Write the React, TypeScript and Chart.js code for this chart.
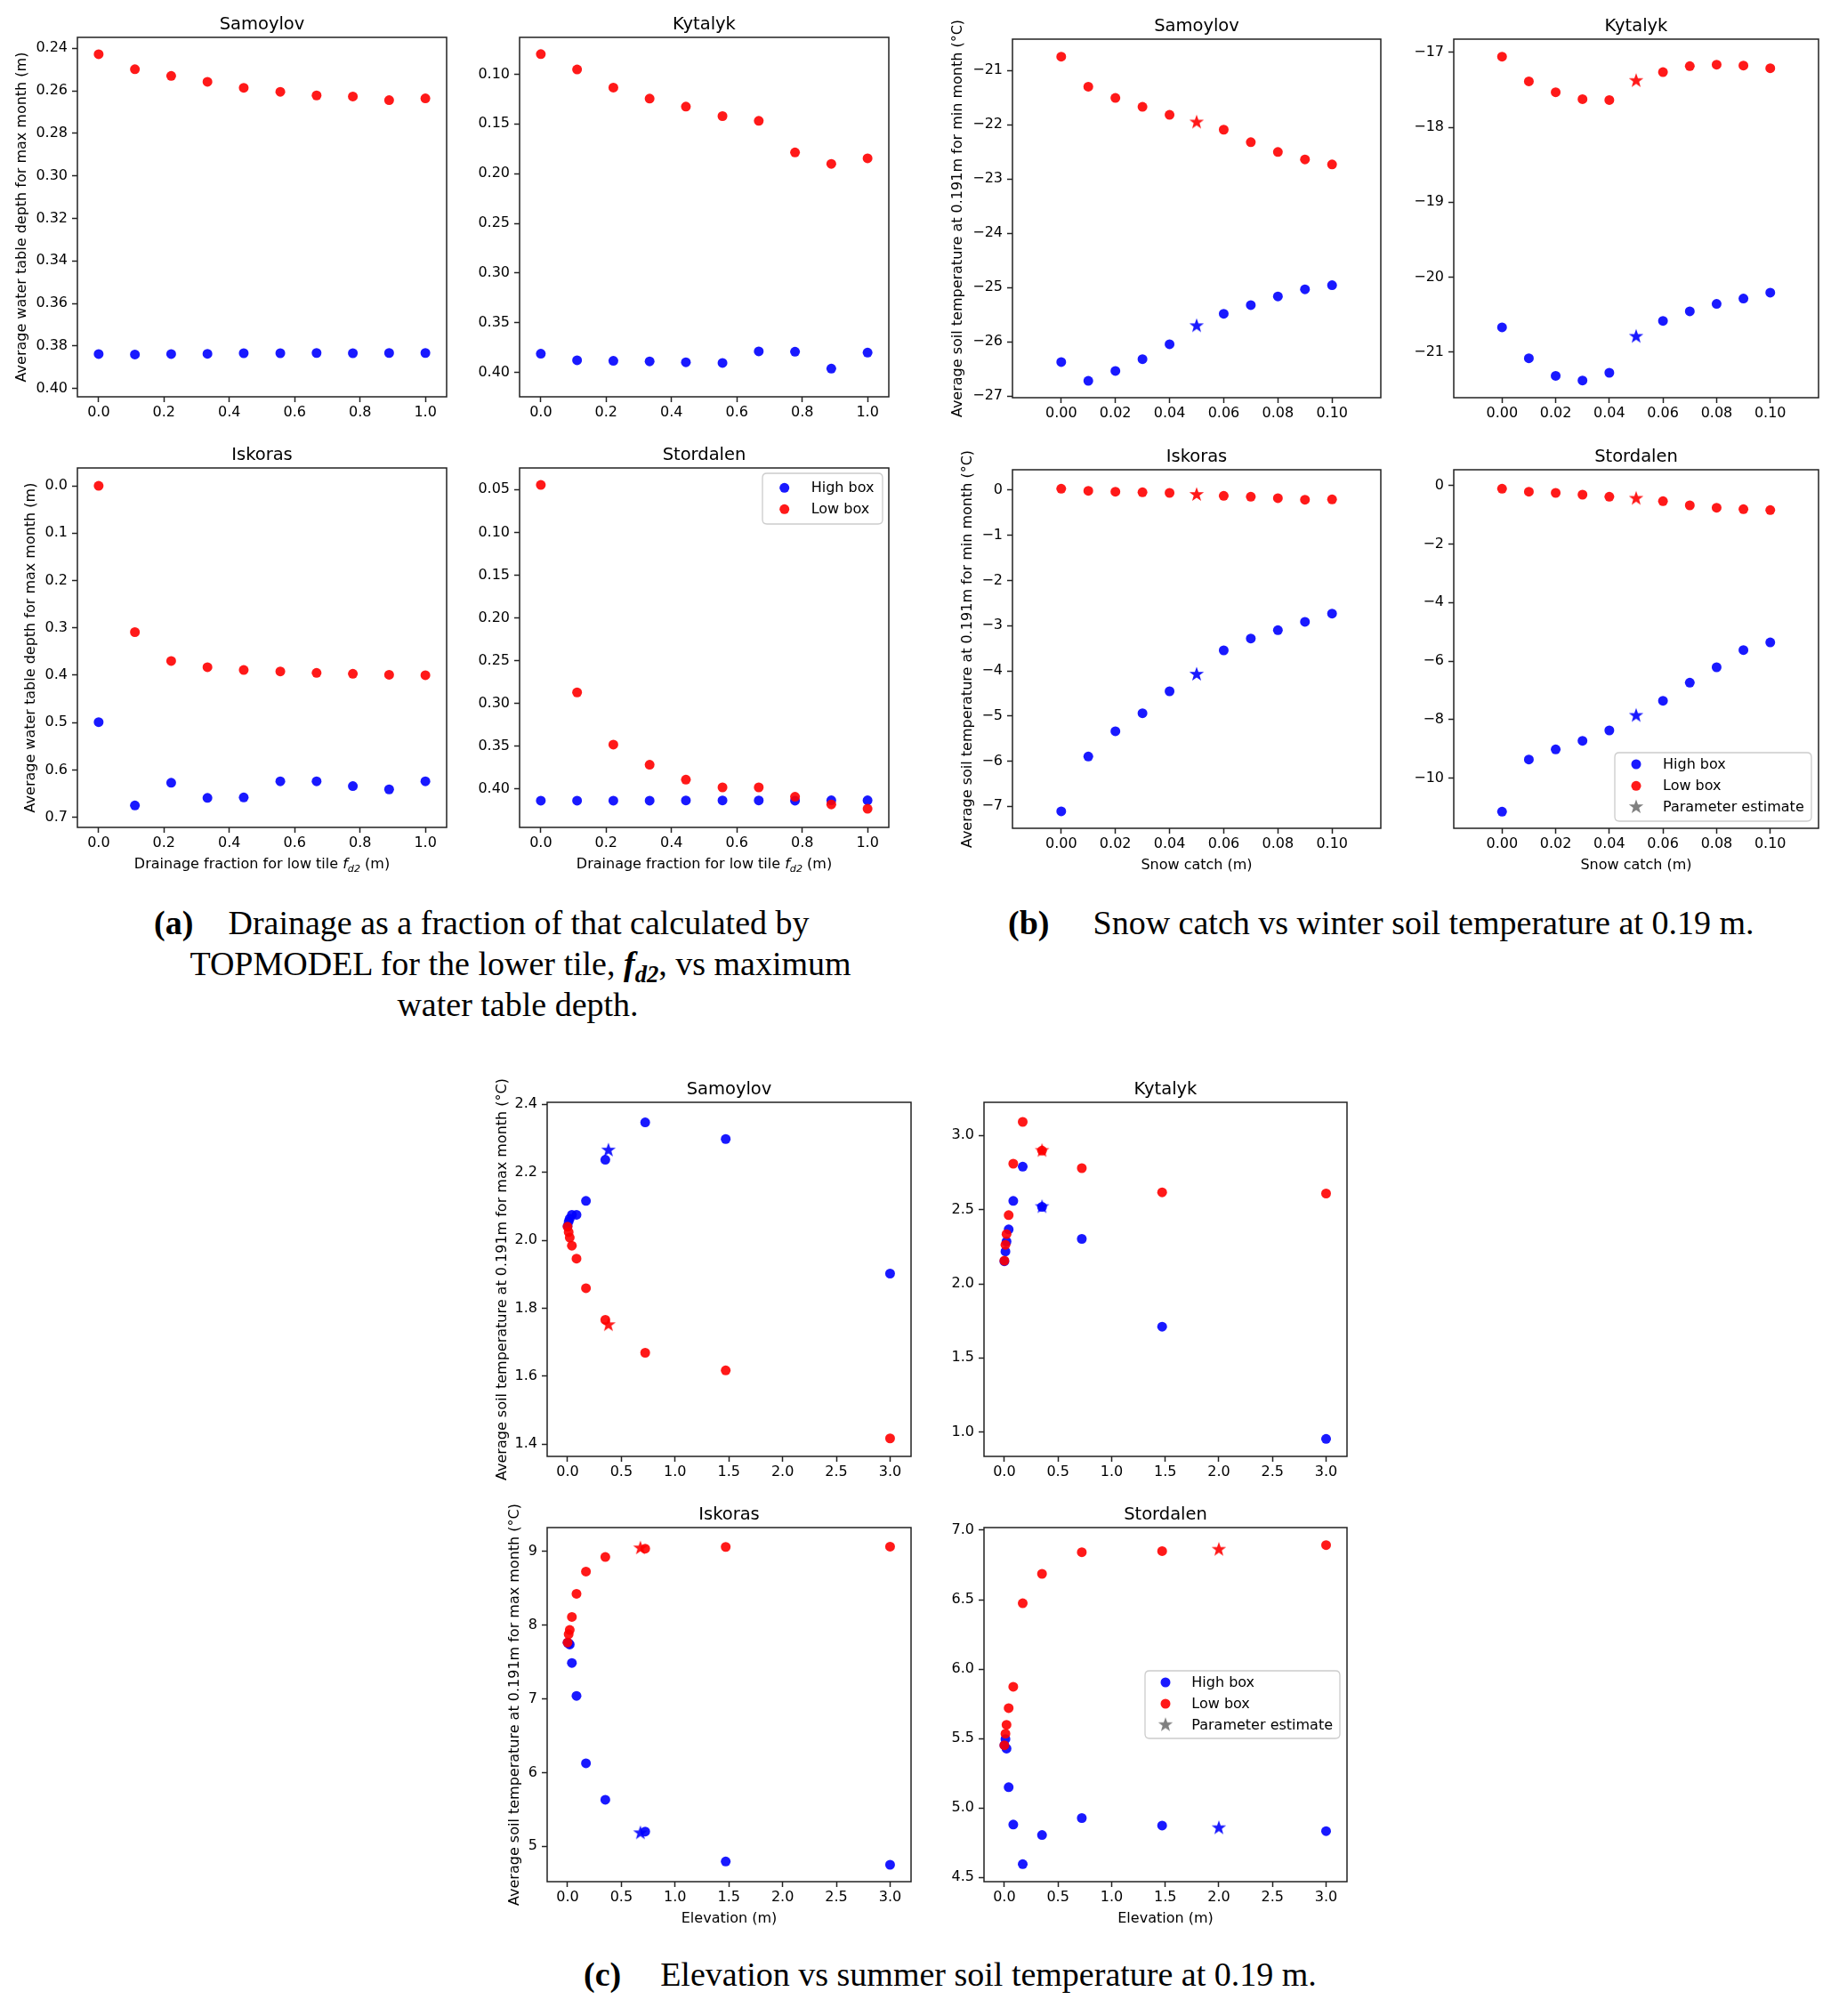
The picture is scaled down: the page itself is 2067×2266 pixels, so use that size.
import React, { useEffect, useRef } from "react";
import { Chart, registerables } from "chart.js";

Chart.register(...registerables);
Chart.defaults.font.family = '"DejaVu Sans", sans-serif';
Chart.defaults.color = "#000";

// ---------------- data ----------------
// (a) drainage fraction vs max-month water table depth (m)
const drainageFraction = [0, 0.111, 0.222, 0.333, 0.444, 0.556, 0.667, 0.778, 0.889, 1.0];
const wtdSamoylovHigh = [0.3838, 0.384, 0.3838, 0.3837, 0.3834, 0.3834, 0.3833, 0.3834, 0.3833, 0.3833];
const wtdSamoylovLow = [0.2428, 0.2499, 0.253, 0.2558, 0.2586, 0.2605, 0.2622, 0.2627, 0.2644, 0.2636];
const wtdKytalykHigh = [0.3812, 0.3877, 0.3883, 0.3889, 0.3898, 0.3904, 0.3788, 0.3791, 0.3961, 0.38];
const wtdKytalykLow = [0.0797, 0.0952, 0.1134, 0.1245, 0.1326, 0.1421, 0.1469, 0.1786, 0.1902, 0.1846];
const wtdIskorasHigh = [0.499, 0.675, 0.627, 0.659, 0.658, 0.624, 0.624, 0.634, 0.641, 0.624];
const wtdIskorasLow = [0.0, 0.309, 0.37, 0.383, 0.389, 0.392, 0.395, 0.397, 0.399, 0.4];
const wtdStordalenHigh = [0.4135, 0.4135, 0.4135, 0.4135, 0.4133, 0.4133, 0.4133, 0.4135, 0.4132, 0.4132];
const wtdStordalenLow = [0.0445, 0.287, 0.348, 0.3716, 0.389, 0.398, 0.398, 0.409, 0.418, 0.423];

// (b) snow catch vs min-month soil temperature (°C)
const snowCatch = [0, 0.01, 0.02, 0.03, 0.04, 0.06, 0.07, 0.08, 0.09, 0.1];
const snowEstimate = 0.05;
const tminSamoylovHigh = [-26.376, -26.721, -26.54, -26.321, -26.048, -25.485, -25.326, -25.167, -25.036, -24.96];
const tminSamoylovLow = [-20.748, -21.301, -21.509, -21.673, -21.82, -22.094, -22.324, -22.504, -22.641, -22.734];
const tminSamoylovStar = [-25.709, -21.957]; // [high, low]
const tminKytalykHigh = [-20.668, -21.079, -21.313, -21.376, -21.273, -20.581, -20.454, -20.355, -20.284, -20.205];
const tminKytalykLow = [-17.059, -17.388, -17.534, -17.625, -17.637, -17.265, -17.186, -17.166, -17.178, -17.214];
const tminKytalykStar = [-20.79, -17.38];
const tminIskorasHigh = [-7.111, -5.897, -5.338, -4.938, -4.452, -3.546, -3.283, -3.099, -2.915, -2.732];
const tminIskorasLow = [0.033, -0.013, -0.033, -0.046, -0.059, -0.125, -0.144, -0.177, -0.21, -0.204];
const tminIskorasStar = [-4.078, -0.098];
const tminStordalenHigh = [-11.145, -9.362, -9.017, -8.723, -8.369, -7.356, -6.738, -6.211, -5.623, -5.36];
const tminStordalenLow = [-0.111, -0.213, -0.253, -0.314, -0.385, -0.537, -0.679, -0.76, -0.811, -0.841];
const tminStordalenStar = [-7.862, -0.446];

// (c) elevation vs max-month soil temperature (°C)
const elevation = [0, 0.01, 0.02, 0.04, 0.083, 0.171, 0.351, 0.722, 1.471, 3.0];
const tmaxSamoylovHigh = [2.042, 2.055, 2.064, 2.075, 2.075, 2.116, 2.237, 2.347, 2.298, 1.902];
const tmaxSamoylovLow = [2.04, 2.024, 2.008, 1.984, 1.946, 1.859, 1.766, 1.669, 1.617, 1.417];
const tmaxSamoylovStar = [0.38, 2.265, 1.751]; // [elevation, high, low]
const tmaxKytalykHigh = [2.152, 2.218, 2.285, 2.367, 2.559, 2.79, 2.519, 2.303, 1.711, 0.954];
const tmaxKytalykLow = [2.156, 2.263, 2.335, 2.463, 2.81, 3.092, 2.898, 2.78, 2.617, 2.609];
const tmaxKytalykStar = [0.351, 2.519, 2.898];
const tmaxIskorasHigh = [7.76, 7.75, 7.734, 7.484, 7.038, 6.126, 5.631, 5.201, 4.795, 4.751];
const tmaxIskorasLow = [7.762, 7.874, 7.931, 8.108, 8.421, 8.723, 8.92, 9.032, 9.056, 9.06];
const tmaxIskorasStar = [0.677, 5.181, 9.04];
const tmaxStordalenHigh = [5.452, 5.497, 5.428, 5.15, 4.881, 4.596, 4.806, 4.928, 4.874, 4.834];
const tmaxStordalenLow = [5.452, 5.535, 5.599, 5.719, 5.873, 6.474, 6.686, 6.842, 6.85, 6.893];
const tmaxStordalenStar = [2.0, 4.857, 6.861];

// tick labels
const ticksAx = [0, 0.2, 0.4, 0.6, 0.8, 1.0];
const ticksBx = [0, 0.02, 0.04, 0.06, 0.08, 0.1];
const ticksCx = [0, 0.5, 1.0, 1.5, 2.0, 2.5, 3.0];
const ticksA1y = [0.24, 0.26, 0.28, 0.3, 0.32, 0.34, 0.36, 0.38, 0.4];
const ticksA2y = [0.1, 0.15, 0.2, 0.25, 0.3, 0.35, 0.4];
const ticksA3y = [0.0, 0.1, 0.2, 0.3, 0.4, 0.5, 0.6, 0.7];
const ticksA4y = [0.05, 0.1, 0.15, 0.2, 0.25, 0.3, 0.35, 0.4];
const ticksB1y = [-27, -26, -25, -24, -23, -22, -21];
const ticksB2y = [-21, -20, -19, -18, -17];
const ticksB3y = [-7, -6, -5, -4, -3, -2, -1, 0];
const ticksB4y = [-10, -8, -6, -4, -2, 0];
const ticksC1y = [1.4, 1.6, 1.8, 2.0, 2.2, 2.4];
const ticksC2y = [1.0, 1.5, 2.0, 2.5, 3.0];
const ticksC3y = [5, 6, 7, 8, 9];
const ticksC4y = [4.5, 5.0, 5.5, 6.0, 6.5, 7.0];

const legendLabels = ["High box", "Low box", "Parameter estimate"];

// ---------------- styling ----------------
const BLUE = "rgba(0,0,255,0.9)";
const RED = "rgba(255,0,0,0.9)";
const GRAY = "#808080";
const INK = "#222";
const FONT = '"DejaVu Sans", sans-serif';
const PAD_L = 95, PAD_T = 45, PAD_R = 12, PAD_B = 62;
const POINT_R = 5.5;
const STAR_R = 8.6;

type Star = { x: number; high: number; low: number };
type Spec = {
  box: [number, number, number, number];
  title: string;
  xRange: [number, number];
  yRange: [number, number];
  reverseY?: boolean;
  xTicks: number[];
  xDec: number;
  yTicks: number[];
  yDec: number;
  yTitle?: string;
  yTitleOffset?: number;
  xTitle?: string;
  x: number[];
  high: number[];
  low: number[];
  star?: Star;
  legend?: { box: [number, number, number, number]; markerX: number; textX: number; rowsY: number[] };
};

const WTD = "Average water table depth for max month (m)";
const TMIN = "Average soil temperature at 0.191m for min month (\u00B0C)";
const TMAX = "Average soil temperature at 0.191m for max month (\u00B0C)";
const FD2 = "__FD2__";
const XA: [number, number] = [-0.065, 1.065];
const XB: [number, number] = [-0.018, 0.118];
const XC: [number, number] = [-0.19, 3.195];

const specs: Spec[] = [
  { box: [87, 42, 502, 446], title: "Samoylov", xRange: XA, yRange: [0.2349, 0.4039], reverseY: true, xTicks: ticksAx, xDec: 1, yTicks: ticksA1y, yDec: 2, yTitle: WTD, yTitleOffset: 62, x: drainageFraction, high: wtdSamoylovHigh, low: wtdSamoylovLow },
  { box: [584, 42, 999, 446], title: "Kytalyk", xRange: XA, yRange: [0.0629, 0.4245], reverseY: true, xTicks: ticksAx, xDec: 1, yTicks: ticksA2y, yDec: 2, x: drainageFraction, high: wtdKytalykHigh, low: wtdKytalykLow },
  { box: [87, 526, 502, 930], title: "Iskoras", xRange: XA, yRange: [-0.0376, 0.7213], reverseY: true, xTicks: ticksAx, xDec: 1, yTicks: ticksA3y, yDec: 1, yTitle: WTD, yTitleOffset: 52, xTitle: FD2, x: drainageFraction, high: wtdIskorasHigh, low: wtdIskorasLow },
  { box: [584, 526, 999, 930], title: "Stordalen", xRange: XA, yRange: [0.0247, 0.4448], reverseY: true, xTicks: ticksAx, xDec: 1, yTicks: ticksA4y, yDec: 2, xTitle: FD2, x: drainageFraction, high: wtdStordalenHigh, low: wtdStordalenLow,
    legend: { box: [857, 532, 992, 589], markerX: 881.7, textX: 911.7, rowsY: [548.3, 572.3] } },

  { box: [1138, 44, 1552, 447], title: "Samoylov", xRange: XB, yRange: [-27.032, -20.426], xTicks: ticksBx, xDec: 2, yTicks: ticksB1y, yDec: 0, yTitle: TMIN, yTitleOffset: 61, x: snowCatch, high: tminSamoylovHigh, low: tminSamoylovLow,
    star: { x: snowEstimate, high: tminSamoylovStar[0], low: tminSamoylovStar[1] } },
  { box: [1634, 44, 2044, 447], title: "Kytalyk", xRange: XB, yRange: [-21.605, -16.826], xTicks: ticksBx, xDec: 2, yTicks: ticksB2y, yDec: 0, x: snowCatch, high: tminKytalykHigh, low: tminKytalykLow,
    star: { x: snowEstimate, high: tminKytalykStar[0], low: tminKytalykStar[1] } },
  { box: [1138, 528, 1552, 931], title: "Iskoras", xRange: XB, yRange: [-7.486, 0.453], xTicks: ticksBx, xDec: 2, yTicks: ticksB3y, yDec: 0, yTitle: TMIN, yTitleOffset: 50, xTitle: "Snow catch (m)", x: snowCatch, high: tminIskorasHigh, low: tminIskorasLow,
    star: { x: snowEstimate, high: tminIskorasStar[0], low: tminIskorasStar[1] } },
  { box: [1634, 528, 2044, 931], title: "Stordalen", xRange: XB, yRange: [-11.712, 0.537], xTicks: ticksBx, xDec: 2, yTicks: ticksB4y, yDec: 0, xTitle: "Snow catch (m)", x: snowCatch, high: tminStordalenHigh, low: tminStordalenLow,
    star: { x: snowEstimate, high: tminStordalenStar[0], low: tminStordalenStar[1] },
    legend: { box: [1815, 846, 2036, 923], markerX: 1839, textX: 1869, rowsY: [859, 883.3, 907] } },

  { box: [615, 1239, 1024, 1637], title: "Samoylov", xRange: XC, yRange: [1.364, 2.406], xTicks: ticksCx, xDec: 1, yTicks: ticksC1y, yDec: 1, yTitle: TMAX, yTitleOffset: 50, x: elevation, high: tmaxSamoylovHigh, low: tmaxSamoylovLow,
    star: { x: tmaxSamoylovStar[0], high: tmaxSamoylovStar[1], low: tmaxSamoylovStar[2] } },
  { box: [1106, 1239, 1514, 1637], title: "Kytalyk", xRange: XC, yRange: [0.836, 3.224], xTicks: ticksCx, xDec: 1, yTicks: ticksC2y, yDec: 1, x: elevation, high: tmaxKytalykHigh, low: tmaxKytalykLow,
    star: { x: tmaxKytalykStar[0], high: tmaxKytalykStar[1], low: tmaxKytalykStar[2] } },
  { box: [615, 1717, 1024, 2115], title: "Iskoras", xRange: XC, yRange: [4.522, 9.318], xTicks: ticksCx, xDec: 1, yTicks: ticksC3y, yDec: 0, yTitle: TMAX, yTitleOffset: 36, xTitle: "Elevation (m)", x: elevation, high: tmaxIskorasHigh, low: tmaxIskorasLow,
    star: { x: tmaxIskorasStar[0], high: tmaxIskorasStar[1], low: tmaxIskorasStar[2] } },
  { box: [1106, 1717, 1514, 2115], title: "Stordalen", xRange: XC, yRange: [4.47, 7.019], xTicks: ticksCx, xDec: 1, yTicks: ticksC4y, yDec: 1, xTitle: "Elevation (m)", x: elevation, high: tmaxStordalenHigh, low: tmaxStordalenLow,
    star: { x: tmaxStordalenStar[0], high: tmaxStordalenStar[1], low: tmaxStordalenStar[2] },
    legend: { box: [1287, 1878, 1506, 1954], markerX: 1310, textX: 1339.3, rowsY: [1891, 1915, 1938.7] } },
];

// ---------------- helpers ----------------
function fmt(v: number, dec: number): string {
  const s = Number(v).toFixed(dec);
  if (/^-0(\.0*)?$/.test(s)) return s.slice(1);
  return s.replace("-", "\u2212");
}

function makeStar(color: string, R = STAR_R): HTMLCanvasElement {
  const size = Math.ceil(R * 2 + 2);
  const c = document.createElement("canvas");
  c.width = size;
  c.height = size;
  const g = c.getContext("2d")!;
  const cx = size / 2, cy = size / 2, r = R * 0.4;
  g.beginPath();
  for (let i = 0; i < 10; i++) {
    const ang = -Math.PI / 2 + (i * Math.PI) / 5;
    const rad = i % 2 === 0 ? R : r;
    const px = cx + rad * Math.cos(ang);
    const py = cy + rad * Math.sin(ang);
    if (i === 0) g.moveTo(px, py);
    else g.lineTo(px, py);
  }
  g.closePath();
  g.fillStyle = color;
  g.fill();
  return c;
}

function roundRect(ctx: CanvasRenderingContext2D, x: number, y: number, w: number, h: number, r: number) {
  ctx.beginPath();
  ctx.moveTo(x + r, y);
  ctx.lineTo(x + w - r, y);
  ctx.quadraticCurveTo(x + w, y, x + w, y + r);
  ctx.lineTo(x + w, y + h - r);
  ctx.quadraticCurveTo(x + w, y + h, x + w - r, y + h);
  ctx.lineTo(x + r, y + h);
  ctx.quadraticCurveTo(x, y + h, x, y + h - r);
  ctx.lineTo(x, y + r);
  ctx.quadraticCurveTo(x, y, x + r, y);
  ctx.closePath();
}

function Panel({ spec }: { spec: Spec }) {
  const ref = useRef<HTMLCanvasElement | null>(null);
  const [L, T, R, B] = spec.box;
  const left = L - PAD_L;
  const top = T - PAD_T;
  const width = R - L + PAD_L + PAD_R;
  const height = B - T + PAD_T + PAD_B;

  useEffect(() => {
    const canvas = ref.current;
    if (!canvas) return;
    const starBlue = makeStar(BLUE);
    const starRed = makeStar(RED);
    const starGray = makeStar(GRAY);

    const datasets: any[] = [
      { label: legendLabels[0], data: spec.x.map((v, i) => ({ x: v, y: spec.high[i] })), backgroundColor: BLUE, pointRadius: POINT_R, pointBorderWidth: 0, order: 4 },
      { label: legendLabels[1], data: spec.x.map((v, i) => ({ x: v, y: spec.low[i] })), backgroundColor: RED, pointRadius: POINT_R, pointBorderWidth: 0, order: 3 },
    ];
    if (spec.star) {
      datasets.push({ label: "star high", data: [{ x: spec.star.x, y: spec.star.high }], pointStyle: starBlue, pointRadius: 9, order: 2 });
      datasets.push({ label: "star low", data: [{ x: spec.star.x, y: spec.star.low }], pointStyle: starRed, pointRadius: 9, order: 1 });
    }

    const decor = {
      id: "decor",
      afterDraw(chart: any) {
        const ctx: CanvasRenderingContext2D = chart.ctx;
        const a = chart.chartArea;
        const ox = left, oy = top;
        ctx.save();
        // frame
        ctx.strokeStyle = INK;
        ctx.lineWidth = 1.5;
        ctx.strokeRect(a.left, a.top, a.right - a.left, a.bottom - a.top);
        ctx.fillStyle = "#000";
        // title
        ctx.font = `19.5px ${FONT}`;
        ctx.textAlign = "center";
        ctx.textBaseline = "alphabetic";
        ctx.fillText(spec.title, (a.left + a.right) / 2, a.top - 9.3);
        // y title
        if (spec.yTitle) {
          ctx.save();
          ctx.translate(a.left - (spec.yTitleOffset || 60), (a.top + a.bottom) / 2);
          ctx.rotate(-Math.PI / 2);
          ctx.font = `16px ${FONT}`;
          ctx.textAlign = "center";
          ctx.textBaseline = "middle";
          ctx.fillText(spec.yTitle, 0, 0);
          ctx.restore();
        }
        // x title
        if (spec.xTitle) {
          const cx = (a.left + a.right) / 2;
          const by = a.bottom + 46;
          ctx.textBaseline = "alphabetic";
          if (spec.xTitle === FD2) {
            const parts = [
              { t: "Drainage fraction for low tile ", f: `16px ${FONT}`, dy: 0 },
              { t: "f", f: `italic 16px ${FONT}`, dy: 0 },
              { t: "d2", f: `italic 11.2px ${FONT}`, dy: 3.5 },
              { t: " (m)", f: `16px ${FONT}`, dy: 0 },
            ];
            let total = 0;
            for (const p of parts) {
              ctx.font = p.f;
              total += ctx.measureText(p.t).width;
            }
            let x = cx - total / 2;
            ctx.textAlign = "left";
            for (const p of parts) {
              ctx.font = p.f;
              ctx.fillText(p.t, x, by + p.dy);
              x += ctx.measureText(p.t).width;
            }
          } else {
            ctx.font = `16px ${FONT}`;
            ctx.textAlign = "center";
            ctx.fillText(spec.xTitle, cx, by);
          }
        }
        // legend
        if (spec.legend) {
          const lg = spec.legend;
          const [lx0, ly0, lx1, ly1] = lg.box;
          roundRect(ctx, lx0 - ox, ly0 - oy, lx1 - lx0, ly1 - ly0, 5);
          ctx.fillStyle = "rgba(255,255,255,0.8)";
          ctx.fill();
          ctx.strokeStyle = "#cccccc";
          ctx.lineWidth = 1.3;
          ctx.stroke();
          const colors = [BLUE, RED];
          ctx.font = `16px ${FONT}`;
          ctx.textAlign = "left";
          ctx.textBaseline = "middle";
          lg.rowsY.forEach((ry, i) => {
            const mx = lg.markerX - ox, my = ry - oy;
            if (i < 2) {
              ctx.beginPath();
              ctx.arc(mx, my, POINT_R, 0, Math.PI * 2);
              ctx.fillStyle = colors[i];
              ctx.fill();
            } else {
              ctx.drawImage(starGray, mx - starGray.width / 2, my - starGray.height / 2);
            }
            ctx.fillStyle = "#000";
            ctx.fillText(legendLabels[i], lg.textX - ox, my + 1);
          });
        }
        ctx.restore();
      },
    };

    const axisCommon = (ticks: number[], dec: number) => ({
      type: "linear" as const,
      afterBuildTicks: (s: any) => {
        s.ticks = ticks.map((v) => ({ value: v }));
      },
      ticks: {
        callback: (v: any) => fmt(Number(v), dec),
        font: { size: 16, family: FONT },
        color: "#000",
        autoSkip: false,
        maxRotation: 0,
        minRotation: 0,
      },
      grid: { display: true, drawOnChartArea: false, drawTicks: true, tickLength: 6, tickColor: INK, tickWidth: 1.5, color: INK },
      border: { display: false },
    });

    const xAxis: any = axisCommon(spec.xTicks, spec.xDec);
    xAxis.min = spec.xRange[0];
    xAxis.max = spec.xRange[1];
    xAxis.ticks.padding = 2;
    xAxis.afterFit = (s: any) => {
      s.height = PAD_B;
    };
    const yAxis: any = axisCommon(spec.yTicks, spec.yDec);
    yAxis.min = spec.yRange[0];
    yAxis.max = spec.yRange[1];
    yAxis.reverse = !!spec.reverseY;
    yAxis.ticks.padding = 5;
    yAxis.afterFit = (s: any) => {
      s.width = PAD_L;
    };

    const chart = new Chart(canvas, {
      type: "scatter",
      data: { datasets },
      options: {
        responsive: false,
        animation: false,
        events: [],
        layout: { padding: { left: 0, top: PAD_T, right: PAD_R, bottom: 0 }, autoPadding: false },
        plugins: { legend: { display: false }, tooltip: { enabled: false }, title: { display: false } },
        scales: { x: xAxis, y: yAxis },
      } as any,
      plugins: [decor],
    });
    return () => chart.destroy();
  }, []);

  return (
    <canvas
      ref={ref}
      width={width}
      height={height}
      style={{ position: "absolute", left, top, width, height }}
    />
  );
}

const capFont: React.CSSProperties = {
  position: "absolute",
  fontFamily: '"Liberation Serif", "Times New Roman", serif',
  fontSize: 38,
  lineHeight: "46px",
  color: "#000",
  whiteSpace: "nowrap",
};

function CenteredLine({ cx, top, children }: { cx: number; top: number; children: React.ReactNode }) {
  return (
    <div style={{ ...capFont, left: cx - 600, width: 1200, top, textAlign: "center" }}>{children}</div>
  );
}

export default function App() {
  return (
    <div style={{ position: "absolute", left: 0, top: 0, width: 2067, height: 2266, background: "#fff", overflow: "hidden" }}>
      {specs.map((s, i) => (
        <Panel key={i} spec={s} />
      ))}
      {/* caption (a) */}
      <div style={{ ...capFont, left: 173, top: 1014, fontWeight: "bold" }}>(a)</div>
      <CenteredLine cx={583} top={1014}>Drainage as a fraction of that calculated by</CenteredLine>
      <CenteredLine cx={585} top={1060}>
        TOPMODEL for the lower tile,{" "}
        <b>
          <i>
            f
            <sub style={{ fontSize: "0.7em", verticalAlign: "-0.3em", lineHeight: 0 }}>d2</sub>
          </i>
        </b>
        , vs maximum
      </CenteredLine>
      <CenteredLine cx={582} top={1106}>water table depth.</CenteredLine>
      {/* caption (b) */}
      <div style={{ ...capFont, left: 1133, top: 1014, fontWeight: "bold" }}>(b)</div>
      <CenteredLine cx={1600} top={1014}>Snow catch vs winter soil temperature at 0.19 m.</CenteredLine>
      {/* caption (c) */}
      <div style={{ ...capFont, left: 656, top: 2196, fontWeight: "bold" }}>(c)</div>
      <CenteredLine cx={1111} top={2196}>Elevation vs summer soil temperature at 0.19 m.</CenteredLine>
    </div>
  );
}
